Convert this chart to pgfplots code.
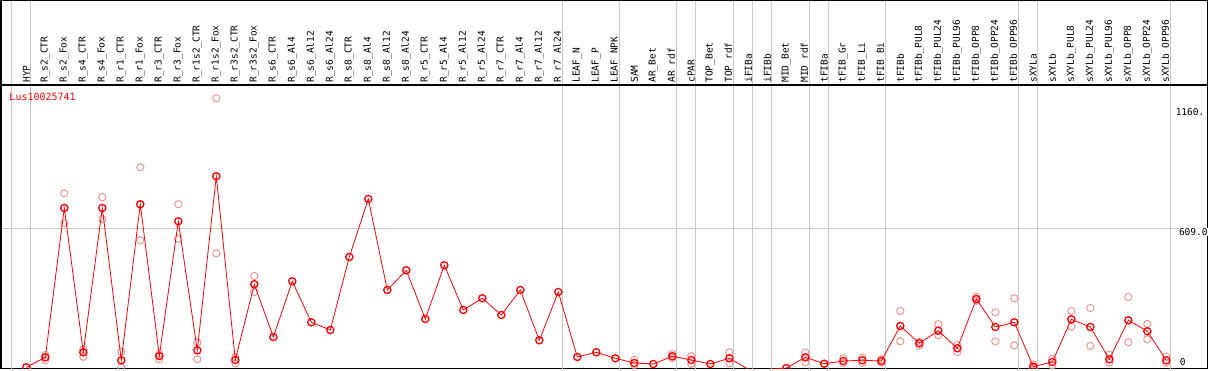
\documentclass[border=0pt]{standalone}
\usepackage{pgfplots}
\pgfplotsset{compat=1.18}
\usepackage{fontspec}
\setmainfont{DejaVu Sans Mono}
\definecolor{mainred}{RGB}{255,0,0}
\definecolor{repred}{RGB}{238,150,150}
\definecolor{gridgray}{RGB}{200,200,200}

\pgfplotstableread{
x y
1 9.5
2 52.6
3 696.7
4 74.2
5 696.7
6 39.7
7 712.7
8 58.2
9 639.3
10 82.8
11 833.5
12 41
13 367.6
14 140.2
15 380.5
16 203.6
17 170.4
18 485.3
19 735.5
20 343
21 428
22 217.9
23 449.5
24 256.7
25 307.2
26 235.1
27 343
28 126
29 334.3
30 54
31 74.2
32 48.3
33 28
34 23.7
35 57
36 41
37 23.7
38 48.3
39 1
40 0
41 6
42 52.6
43 25
44 36.7
45 39.7
46 36.7
47 187.7
48 113
49 167.4
50 91.5
51 304
52 183.3
53 203.6
54 12
55 32.4
56 216.4
57 183.3
58 44
59 212.2
60 164.8
61 39.7
}\maindata

\pgfplotstableread{
x y
2 62.6
2 41
3 760
3 630.7
4 87
4 55
5 743
5 649
6 76.8
6 9.5
7 872
7 557
8 67
8 44
9 712.7
9 564
10 117
10 44
11 1170
11 501
12 52.6
12 26.7
13 403
13 334
33 41
33 19.4
35 67
35 49.6
36 58
36 23.7
38 74
38 26.7
42 74
42 31
44 48.3
44 28
45 51
45 29
46 44
46 30
47 252.4
47 121.7
48 120
48 102.7
49 196
49 147.5
50 105.7
50 75.5
51 314
51 296.8
52 246.8
52 121.7
53 307
53 104.4
54 21.6
54 6.5
55 45.3
55 18
56 252.4
56 184.6
57 265.3
57 101.4
58 63.8
58 29.3
59 312.8
59 117.3
60 196.3
60 130.3
61 55.2
61 29.3
}\repdata

\begin{document}
\begin{tikzpicture}
\begin{axis}[
  at={(0pt,0pt)}, anchor=south west,
  scale only axis, width=1206.7pt, height=283.5pt,
  xmin=-0.3316, xmax=63.18, ymin=4.3, ymax=1227,
  axis line style={black, line width=1.2pt},
  xtick={1,...,61},
  xticklabels={HYP,R\_s2\_CTR,R\_s2\_Fox,R\_s4\_CTR,R\_s4\_Fox,R\_r1\_CTR,R\_r1\_Fox,R\_r3\_CTR,R\_r3\_Fox,R\_r1s2\_CTR,R\_r1s2\_Fox,R\_r3s2\_CTR,R\_r3s2\_Fox,R\_s6\_CTR,R\_s6\_Al4,R\_s6\_Al12,R\_s6\_Al24,R\_s8\_CTR,R\_s8\_Al4,R\_s8\_Al12,R\_s8\_Al24,R\_r5\_CTR,R\_r5\_Al4,R\_r5\_Al12,R\_r5\_Al24,R\_r7\_CTR,R\_r7\_Al4,R\_r7\_Al12,R\_r7\_Al24,LEAF\_N,LEAF\_P,LEAF\_NPK,SAM,AR\_Bet,AR\_rdf,cPAR,TOP\_Bet,TOP\_rdf,iFIBa,iFIBb,MID\_Bet,MID\_rdf,tFIBa,tFIB\_Gr,tFIB\_Li,tFIB\_Bi,tFIBb,tFIBb\_PUL8,tFIBb\_PUL24,tFIBb\_PUL96,tFIBb\_OPP8,tFIBb\_OPP24,tFIBb\_OPP96,sXYLa,sXYLb,sXYLb\_PUL8,sXYLb\_PUL24,sXYLb\_PUL96,sXYLb\_OPP8,sXYLb\_OPP24,sXYLb\_OPP96},
  xticklabel pos=upper,
  xticklabel style={rotate=90, anchor=west, font=\fontsize{9.5}{10}\selectfont, inner sep=0pt, text=black},
  xticklabel shift=2.3pt,
  major tick length=0pt,
  ytick={609}, yticklabels={}, ymajorgrids,
  major grid style={gridgray, line width=0.9pt},
  clip mode=individual, clip marker paths=true,
]
\pgfplotsinvokeforeach{0.22,1.22,29.22,32.22,35.22,36.22,38.22,39.22,40.22,42.22,43.22,46.22,53.22,54.22,61.22}{
  \draw[gridgray, line width=0.9pt] (axis cs:#1,4.3) -- ([yshift=84pt]axis cs:#1,1227);
}
\addplot[only marks, repred, mark=o, mark size=3.6pt, mark options={line width=1pt}] table[x=x,y=y] {\repdata};
\addplot[mainred, line width=0.8pt, mark=o, mark size=3.6pt, mark options={line width=1.3pt}] table[x=x,y=y] {\maindata};
\node[anchor=west, text=red, font=\fontsize{10}{11}\selectfont, inner sep=0pt] at (axis cs:0.105,1175.6) {Lus10025741};
\node[anchor=west, inner sep=0.5pt, fill=white, font=\fontsize{9.5}{10}\selectfont] at (axis cs:61.46,1111) {1160.};
\node[anchor=west, inner sep=0.5pt, fill=white, font=\fontsize{9.5}{10}\selectfont] at (axis cs:61.63,594.5) {609.0};
\node[anchor=west, inner sep=0.5pt, fill=white, font=\fontsize{9.5}{10}\selectfont] at (axis cs:61.67,32.4) {0};
\end{axis}
\draw[black, line width=1.2pt] (0pt,283.5pt) rectangle (1206.7pt,368pt);
\pgfresetboundingbox
\path[use as bounding box] (-1pt,-1.5pt) rectangle (1208pt,368.5pt);
\end{tikzpicture}
\end{document}
